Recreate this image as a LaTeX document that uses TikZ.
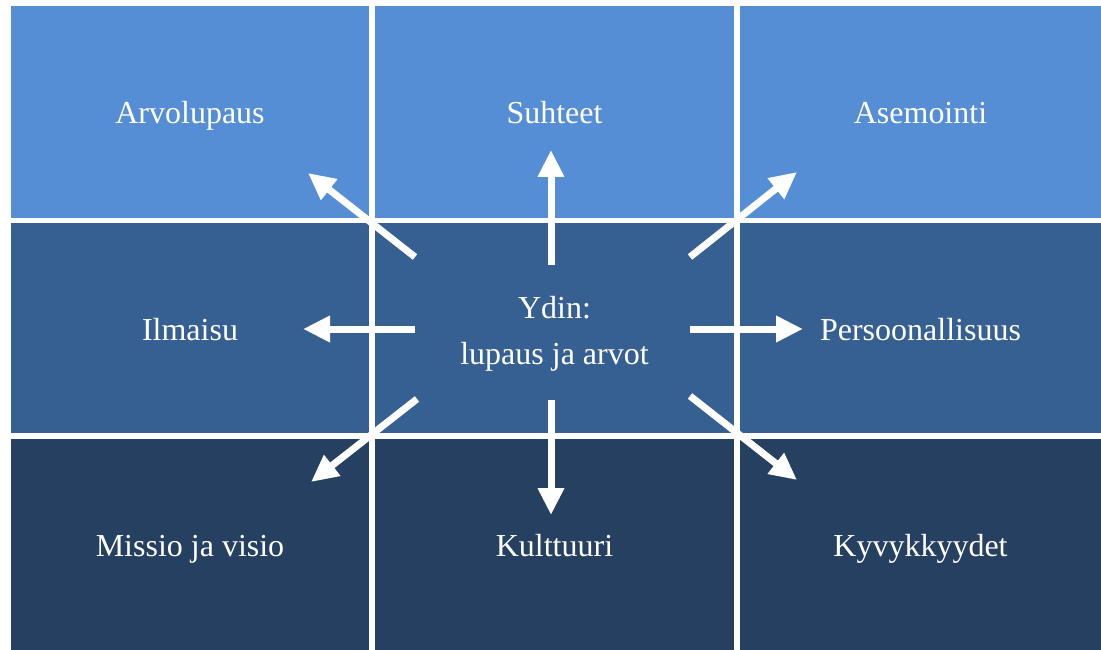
\documentclass[tikz,border=0pt]{standalone}
\usepackage{fontspec}
\setmainfont{Liberation Serif}
\usetikzlibrary{arrows.meta}
\definecolor{ctop}{RGB}{85,142,213}
\definecolor{cmid}{RGB}{55,96,146}
\definecolor{cbot}{RGB}{37,64,97}
\tikzset{
  cell/.style={rectangle, draw=none, inner sep=0pt, text=white,
    font=\fontsize{32}{46}\selectfont, align=center,
    text height=30pt, text depth=6pt},
  ctext/.style={inner sep=0pt, text=white,
    font=\fontsize{32}{46}\selectfont, align=center},
  arr/.style={draw=white, line width=7pt, -{Triangle[length=27pt,width=25pt]}}
}
\begin{document}
\begin{tikzpicture}[x=1pt,y=-1pt]
\useasboundingbox[fill=white] (0,0) rectangle (1101,650);
% row 1
\node[cell, fill=ctop, minimum width=358pt, minimum height=212pt] (a) at (190,112) {Arvolupaus};
\node[cell, fill=ctop, minimum width=359pt, minimum height=212pt] (b) at (554.5,112) {Suhteet};
\node[cell, fill=ctop, minimum width=361pt, minimum height=212pt] (c) at (920.5,112) {Asemointi};
% row 2
\node[cell, fill=cmid, minimum width=358pt, minimum height=210pt] (d) at (190,328) {Ilmaisu};
\node[cell, fill=cmid, minimum width=359pt, minimum height=210pt] (e) at (554.5,328) {};
\node[ctext, yshift=-6pt] (et) at (e.center) {Ydin:\\lupaus ja arvot};
\node[cell, fill=cmid, minimum width=361pt, minimum height=210pt] (f) at (920.5,328) {Persoonallisuus};
% row 3
\node[cell, fill=cbot, minimum width=358pt, minimum height=211pt] (g) at (190,544.5) {Missio ja visio};
\node[cell, fill=cbot, minimum width=359pt, minimum height=211pt] (h) at (554.5,544.5) {Kulttuuri};
\node[cell, fill=cbot, minimum width=361pt, minimum height=211pt] (i) at (920.5,544.5) {Kyvykkyydet};
% arrow coordinates
\coordinate (sN) at (551,265);  \coordinate (tN) at (551,150);
\coordinate (sS) at (551,400);  \coordinate (tS) at (551,515);
\coordinate (sW) at (415,329);  \coordinate (tW) at (303,329);
\coordinate (sE) at (690,329);  \coordinate (tE) at (803,329);
\coordinate (sNW) at (415,257); \coordinate (tNW) at (308,173);
\coordinate (sNE) at (690,257); \coordinate (tNE) at (797,172);
\coordinate (sSW) at (417,399); \coordinate (tSW) at (311,482);
\coordinate (sSE) at (690,396); \coordinate (tSE) at (797,480);
\draw[arr] (sN) -- (tN);
\draw[arr] (sS) -- (tS);
\draw[arr] (sW) -- (tW);
\draw[arr] (sE) -- (tE);
\draw[arr] (sNW) -- (tNW);
\draw[arr] (sNE) -- (tNE);
\draw[arr] (sSW) -- (tSW);
\draw[arr] (sSE) -- (tSE);
\end{tikzpicture}
\end{document}
